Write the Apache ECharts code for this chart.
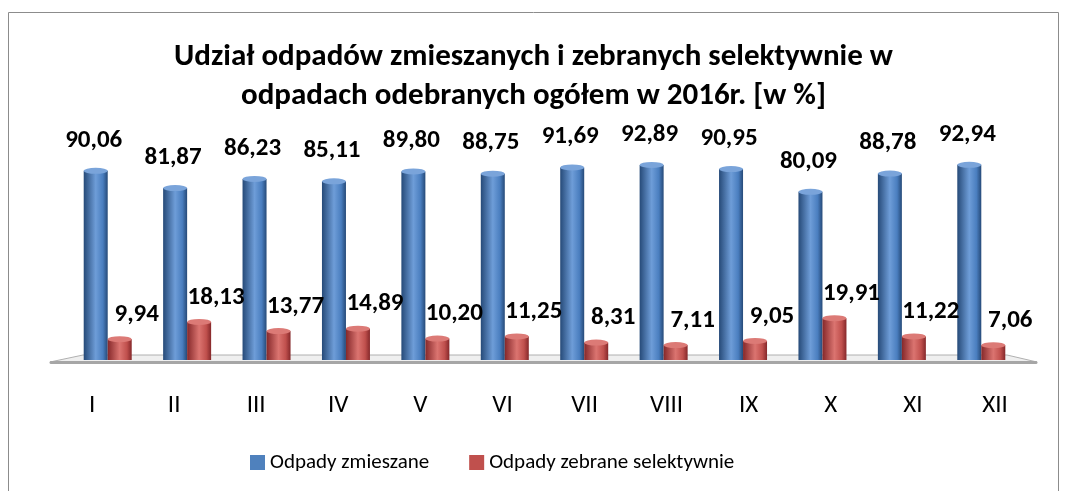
<!DOCTYPE html>
<html>
<head>
<meta charset="utf-8">
<script src="https://cdn.jsdelivr.net/npm/echarts@6/dist/echarts.min.js"></script>
<style>
  html, body { margin: 0; padding: 0; background: #fff; }
  #chart { width: 1067px; height: 491px; }
</style>
</head>
<body>
<div id="chart"></div>
<script>
const months = ["I", "II", "III", "IV", "V", "VI", "VII", "VIII", "IX", "X", "XI", "XII"];
const mixed = [90.06, 81.87, 86.23, 85.11, 89.80, 88.75, 91.69, 92.89, 90.95, 80.09, 88.78, 92.94];
const selective = [9.94, 18.13, 13.77, 14.89, 10.20, 11.25, 8.31, 7.11, 9.05, 19.91, 11.22, 7.06];
const seriesNames = ["Odpady zmieszane", "Odpady zebrane selektywnie"];

const font = "Carlito, Calibri, 'Noto Sans', sans-serif";
const fmt = (v) => v.toFixed(2).replace(".", ",");

// horizontal gradient to fake the cylinder shading
const cyl = (dark, mid, light) => ({
  type: "linear", x: 0, y: 0, x2: 1, y2: 0,
  colorStops: [
    { offset: 0, color: dark },
    { offset: 0.5, color: light },
    { offset: 0.8, color: mid },
    { offset: 1, color: dark }
  ]
});
const blueFill = cyl("#264a78", "#4a7ebf", "#6e9dd8");
const redFill = cyl("#85282a", "#c0504d", "#db7470");

const labelStyle = { fontFamily: font, fontWeight: "bold", fontSize: 25, color: "#000" };

const chart = echarts.init(document.getElementById("chart"));
chart.setOption({
  animation: false,
  graphic: [
    {
      type: "rect",
      shape: { x: 8.5, y: 12.5, width: 1050, height: 490 },
      style: { fill: "none", stroke: "#8c8c8c", lineWidth: 1 }
    },
    {
      // floor of the 3d plot
      type: "polygon",
      shape: { points: [[50, 362], [83, 355], [1007, 355], [1037, 362]] },
      style: { fill: "#efefef", stroke: "#b0b0b0", lineWidth: 1 },
      z: 0
    }
  ],
  title: {
    text: "Udział odpadów zmieszanych i zebranych selektywnie w\nodpadach odebranych ogółem w 2016r. [w %]",
    left: "center",
    top: 33,
    textStyle: { fontFamily: font, fontWeight: "bold", fontSize: 31, lineHeight: 39, color: "#000" }
  },
  legend: {
    data: [
      { name: seriesNames[0], itemStyle: { color: "#4f81bd" } },
      { name: seriesNames[1], itemStyle: { color: "#c0504d" } }
    ],
    left: 245,
    top: 447,
    itemWidth: 15,
    itemHeight: 15,
    itemGap: 40,
    icon: "rect",
    textStyle: { fontFamily: font, fontSize: 21, color: "#000" }
  },
  grid: [
    { left: 68, right: 46, top: 150, bottom: 131 },
    { left: 51, right: 31, top: 150, bottom: 129 }
  ],
  xAxis: [
    {
      type: "category",
      data: months,
      gridIndex: 0,
      axisLine: { show: false },
      axisTick: { show: false },
      axisLabel: { show: false }
    },
    {
      type: "category",
      data: months,
      gridIndex: 1,
      axisLine: { lineStyle: { color: "#a6a6a6", width: 3 } },
      axisTick: { show: false },
      axisLabel: { fontFamily: font, fontSize: 25, color: "#000", margin: 31 }
    }
  ],
  yAxis: [
    { type: "value", min: 0, max: 100, show: false, gridIndex: 0 },
    { type: "value", min: 0, max: 100, show: false, gridIndex: 1 }
  ],
  series: [
    {
      name: seriesNames[0],
      type: "bar",
      data: mixed,
      barWidth: 24,
      barGap: "0%",
      itemStyle: { color: blueFill },
      label: {
        show: true, position: "top", distance: 18, offset: [-2, 0],
        formatter: (p) => fmt(p.value),
        ...labelStyle
      },
      z: 2
    },
    {
      name: seriesNames[1],
      type: "bar",
      data: selective,
      barWidth: 24,
      itemStyle: { color: redFill },
      label: {
        show: true, position: "top", distance: 12, offset: [17, 0],
        formatter: (p) => fmt(p.value),
        ...labelStyle
      },
      z: 2
    },
    {
      name: seriesNames[0],
      type: "pictorialBar",
      data: mixed,
      symbol: "circle",
      symbolSize: [24, 6],
      symbolPosition: "end",
      symbolOffset: [-12, "-50%"],
      itemStyle: { color: "#7aa4da" },
      z: 3,
      legendHoverLink: false
    },
    {
      name: seriesNames[1],
      type: "pictorialBar",
      data: selective,
      symbol: "circle",
      symbolSize: [24, 6],
      symbolPosition: "end",
      symbolOffset: [12, "-50%"],
      itemStyle: { color: "#dc7a76" },
      z: 3,
      legendHoverLink: false
    }
  ]
});
</script>
</body>
</html>
